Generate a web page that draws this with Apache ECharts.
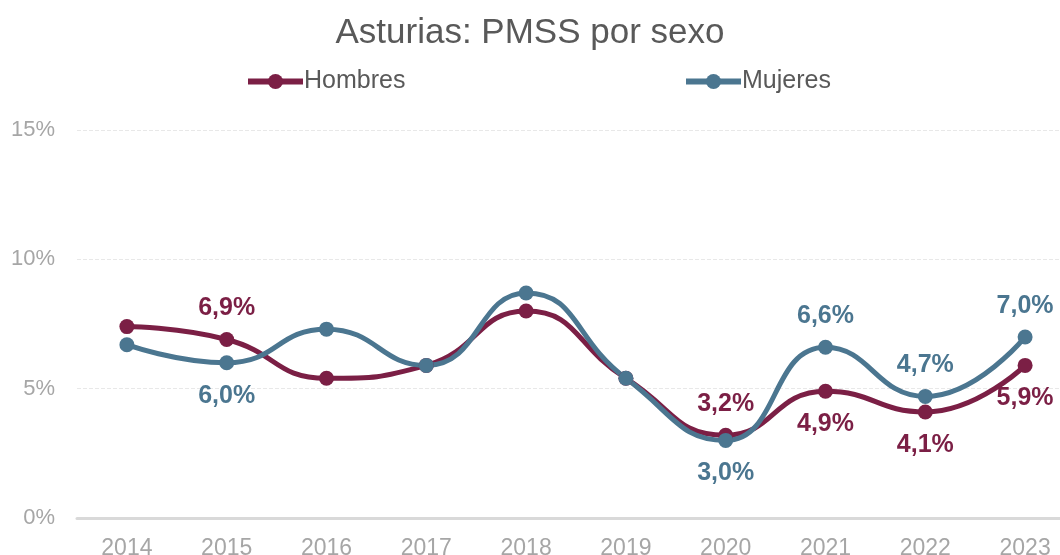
<!DOCTYPE html>
<html>
<head>
<meta charset="utf-8">
<script src="https://cdn.jsdelivr.net/npm/echarts@6/dist/echarts.min.js"></script>
<style>
  html, body { margin: 0; padding: 0; background: #fff; }
  #chart { width: 1060px; height: 555px; }
</style>
</head>
<body>
<div id="chart"></div>
<script>
var years = ['2014', '2015', '2016', '2017', '2018', '2019', '2020', '2021', '2022', '2023'];
var hombres = [7.4, 6.9, 5.4, 5.9, 8.0, 5.4, 3.2, 4.9, 4.1, 5.9];
var mujeres = [6.7, 6.0, 7.3, 5.9, 8.7, 5.4, 3.0, 6.6, 4.7, 7.0];
// which points carry a label, and where
var hombresLabels = [null, 'top', null, null, null, null, 'top', 'bottom', 'bottom', 'bottom'];
var mujeresLabels = [null, 'bottom', null, null, null, null, 'bottom', 'top', 'top', 'top'];
var yTicks = [0, 5, 10, 15];

var cHom = '#7b1f45';
var cMuj = '#4b7690';
var sans = '"Liberation Sans", Arial, sans-serif';

function fmt(v) {
    return v.toFixed(1).replace('.', ',') + '%';
}

function buildData(vals, pos, color) {
    return vals.map(function (v, i) {
        var item = {value: v};
        if (pos[i]) {
            item.label = {
                show: true,
                position: pos[i],
                distance: pos[i] === 'top' ? 11 : 13,
                formatter: function (p) { return fmt(p.value); },
                color: color,
                fontSize: 25,
                fontWeight: 'bold',
                fontFamily: sans
            };
        }
        return item;
    });
}

function legendAt(name, left) {
    return {
        data: [name],
        left: left,
        top: 64,
        itemWidth: 55,
        itemHeight: 19,
        itemGap: 5,
        lineStyle: {width: 6},
        textStyle: {color: '#595959', fontSize: 25, fontFamily: sans, padding: [0, 0, 0, -4]}
    };
}

var chart = echarts.init(document.getElementById('chart'));
var option = {
    backgroundColor: '#fff',
    animation: false,
    title: {
        text: 'Asturias: PMSS por sexo',
        left: 'center',
        top: 11,
        textStyle: {
            color: '#595959',
            fontSize: 35,
            fontWeight: 'normal',
            fontFamily: sans
        }
    },
    legend: [legendAt('Hombres', 240), legendAt('Mujeres', 678)],
    grid: {
        left: 77,
        width: 998,
        top: 130,
        height: 388,
        outerBoundsMode: 'none',
        containLabel: false
    },
    xAxis: {
        type: 'category',
        data: years,
        boundaryGap: true,
        axisLine: {lineStyle: {color: '#d9d9d9', width: 3}},
        axisTick: {show: false},
        axisLabel: {
            color: '#a6a6a6',
            fontSize: 23,
            fontFamily: sans,
            margin: 19
        }
    },
    yAxis: {
        type: 'value',
        min: yTicks[0],
        max: yTicks[yTicks.length - 1],
        interval: 5,
        axisLine: {show: false},
        axisTick: {show: false},
        splitLine: {lineStyle: {color: '#e8e8e8', type: 'dashed', width: 1}},
        axisLabel: {
            color: '#a6a6a6',
            fontSize: 22,
            fontFamily: sans,
            margin: 22,
            formatter: '{value}%'
        }
    },
    series: [
        {
            name: 'Hombres',
            type: 'line',
            smooth: 0.5,
            symbol: 'circle',
            symbolSize: 15,
            lineStyle: {color: cHom, width: 5},
            itemStyle: {color: cHom},
            data: buildData(hombres, hombresLabels, cHom)
        },
        {
            name: 'Mujeres',
            type: 'line',
            smooth: 0.5,
            symbol: 'circle',
            symbolSize: 15,
            lineStyle: {color: cMuj, width: 5},
            itemStyle: {color: cMuj},
            data: buildData(mujeres, mujeresLabels, cMuj)
        }
    ]
};
chart.setOption(option);
</script>
</body>
</html>
